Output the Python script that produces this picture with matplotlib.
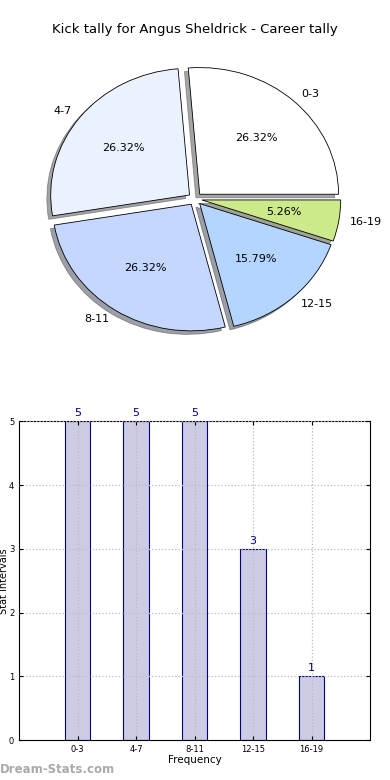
import matplotlib
matplotlib.use('Agg')
import matplotlib.pyplot as plt

# Kick tally data
intervals = ['0-3', '4-7', '8-11', '12-15', '16-19']
counts = [5, 5, 5, 3, 1]
pie_colors = ['#FFFFFF', '#EAF2FF', '#C4D8FF', '#B3D5FF', '#CDEA8A']

fig = plt.figure(figsize=(3.9, 7.8), dpi=100)
fig.text(0.5, 0.962, 'Kick tally for Angus Sheldrick - Career tally',
         ha='center', va='center', fontsize=9.5)

# Pie chart
ax1 = fig.add_axes([0.055, 0.542, 0.89, 0.406])
wedges, texts, autotexts = ax1.pie(counts, labels=intervals, colors=pie_colors,
                                   explode=[0.05] * len(counts), autopct='%.2f%%',
                                   shadow=True, startangle=0, counterclock=True,
                                   labeldistance=1.08,
                                   wedgeprops={'edgecolor': 'black', 'linewidth': 0.6},
                                   textprops={'fontsize': 8})
ax1.set_aspect('auto')
ax1.set_xlim(-1.25, 1.25)
ax1.set_ylim(-1.25, 1.25)

# Bar chart
ax2 = fig.add_axes([0.049, 0.051, 0.9, 0.409])
pos = range(len(intervals))
bars = ax2.bar(pos, counts, width=0.44, color='#CCCCE5', edgecolor='navy', linewidth=0.8)
for x, c in zip(pos, counts):
    ax2.text(x, c + 0.05, str(c), ha='center', va='bottom', color='navy', fontsize=8)
ax2.set_xlim(-1, 5)
ax2.set_ylim(0, 5)
ax2.set_xticks(list(pos))
ax2.set_xticklabels(intervals)
ax2.set_yticks(range(6))
ax2.tick_params(labelsize=6, direction='in', top=True, right=True, length=3)
ax2.grid(True, linestyle=':', color='#BBBBBB', linewidth=0.9)
ax2.set_axisbelow(False)
ax2.set_xlabel('Frequency', fontsize=7.5, labelpad=1)
ax2.set_ylabel('Stat Intervals', fontsize=7, va='center')
ax2.yaxis.set_label_coords(-0.042, 0.5)

fig.text(0.0, 0.013, 'Dream-Stats.com', color='#AAAAAA', fontsize=8.5,
         fontweight='bold', ha='left', va='center')

fig.savefig('out.png', dpi=100)
